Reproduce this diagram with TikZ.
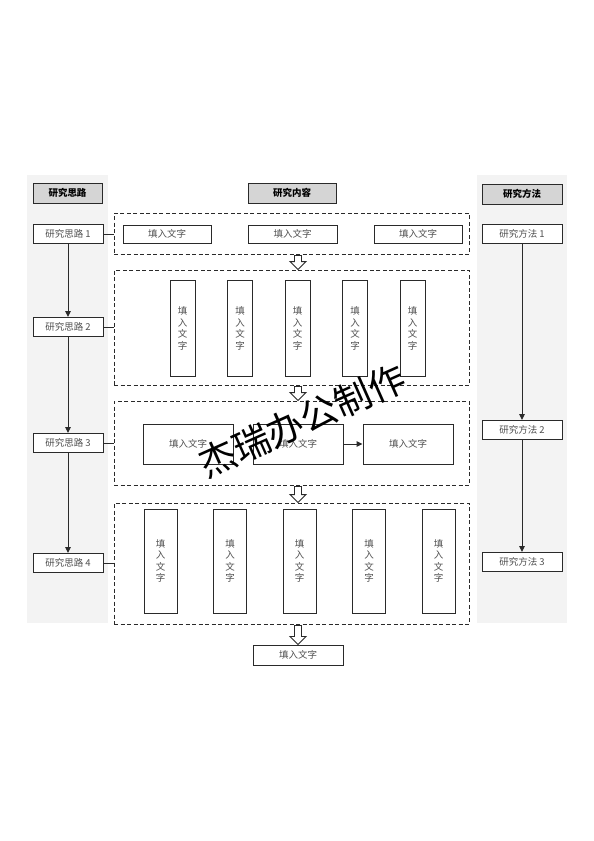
\documentclass[tikz,border=0pt]{standalone}
\usepackage{fontspec}
\setmainfont{Liberation Serif}
\newfontfamily\cjk{Noto Sans CJK SC}
\usetikzlibrary{arrows.meta,calc}
\definecolor{linegray}{HTML}{2A2A2A}
\definecolor{panelgray}{HTML}{F3F3F3}
\definecolor{hdrgray}{HTML}{D5D5D5}
\definecolor{txtgray}{HTML}{505050}
\tikzset{
  panel/.style={fill=panelgray,draw=none},
  hdr/.style={draw=linegray,fill=hdrgray,line width=1pt,minimum height=20pt,inner sep=0pt,font=\cjk\bfseries\fontsize{9.5}{11}\selectfont},
  sidebox/.style={draw=linegray,fill=white,line width=1pt,minimum width=70pt,minimum height=19pt,inner sep=0pt,text=txtgray,font=\cjk\fontsize{9.5}{11}\selectfont},
  dbox/.style={draw=linegray,dash pattern=on 4pt off 2.5pt,line width=0.9pt,inner sep=0pt},
  hbox/.style={draw=linegray,fill=white,line width=1pt,inner sep=0pt,text=txtgray,font=\cjk\fontsize{9.5}{11}\selectfont},
  vbox/.style={hbox,align=center,font=\cjk\fontsize{9.5}{11.5}\selectfont},
  conn/.style={draw=linegray,line width=1pt},
  varrow/.style={draw=linegray,line width=1pt,-{Triangle[length=6pt,width=5.5pt]}},
  harrowst/.style={draw=linegray,fill=white,line width=0.9pt,line join=miter},
}
\newcommand\harrowdraw[2]{\draw[harrowst] let \p1=(#1 -| F.center), \p2=(#2 -| F.center) in
  (\x1-3.5pt,\y1-1pt) -- (\x1+3.5pt,\y1-1pt) -- (\x1+3.5pt,\y2+8pt) -- (\x1+8pt,\y2+8pt) -- (\x1,\y2) -- (\x1-8pt,\y2+8pt) -- (\x1-3.5pt,\y2+8pt) -- cycle;}
\begin{document}
\begin{tikzpicture}[x=1pt,y=-1pt]
\useasboundingbox[fill=white] (0,0) rectangle (594,841);
% panels
\fill[panelgray] (27,175) rectangle (108,623);
\fill[panelgray] (477,175) rectangle (567,623);
% headers
\node[hdr,minimum width=69pt] (h1) at (67.5,193) {研究思路};
\node[hdr,minimum width=88pt] (h2) at (292,193) {研究内容};
\node[hdr,minimum width=80pt] (h3) at (522,194) {研究方法};
% left column
\node[sidebox] (L1) at (68,234) {研究思路 1};
\node[sidebox] (L2) at (68,327) {研究思路 2};
\node[sidebox] (L3) at (68,443) {研究思路 3};
\node[sidebox] (L4) at (68,563) {研究思路 4};
% right column
\node[sidebox,minimum width=80pt] (R1) at (522,234) {研究方法 1};
\node[sidebox,minimum width=80pt] (R2) at (522,430) {研究方法 2};
\node[sidebox,minimum width=80pt] (R3) at (522,562) {研究方法 3};
% dashed boxes
\node[dbox,minimum width=355pt,minimum height=41pt] (D1) at (291.5,233.5) {};
\node[dbox,minimum width=355pt,minimum height=115pt] (D2) at (291.5,327.5) {};
\node[dbox,minimum width=355pt,minimum height=84pt] (D3) at (291.5,443) {};
\node[dbox,minimum width=355pt,minimum height=121pt] (D4) at (291.5,563.5) {};
% row 1
\node[hbox,minimum width=88pt,minimum height=18pt] (A1) at (167,234) {填入文字};
\node[hbox,minimum width=89pt,minimum height=18pt] (A2) at (292.5,234) {填入文字};
\node[hbox,minimum width=88pt,minimum height=18pt] (A3) at (418,234) {填入文字};
% row 2
\foreach \i/\x in {1/182.5,2/240,3/297.5,4/355,5/412.5}{
  \node[vbox,minimum width=25pt,minimum height=96pt] (B\i) at (\x,328.5) {填\\入\\文\\字};
}
% row 3
\node[hbox,minimum width=90pt,minimum height=40pt] (C1) at (188,444) {填入文字};
\node[hbox,minimum width=90pt,minimum height=40pt] (C2) at (298,444) {填入文字};
\node[hbox,minimum width=90pt,minimum height=40pt] (C3) at (408,444) {填入文字};
% row 4
\foreach \i/\x in {1/160.5,2/230,3/299.5,4/369,5/438.5}{
  \node[vbox,minimum width=33pt,minimum height=104pt] (E\i) at (\x,561) {填\\入\\文\\字};
}
% final
\node[hbox,minimum width=90pt,minimum height=20pt] (F) at (298,655) {填入文字};
% connectors left to dashed boxes
\draw[conn] (L1) -- (L1 -| D1.west);
\draw[conn] (L2) -- (L2 -| D2.west);
\draw[conn] (L3) -- (L3 -| D3.west);
\draw[conn] (L4) -- (L4 -| D4.west);
% vertical arrows
\draw[varrow] (L1) -- (L2);
\draw[varrow] (L2) -- (L3);
\draw[varrow] (L3) -- (L4);
\draw[varrow] (R1) -- (R2);
\draw[varrow] (R2) -- (R3);
\draw[varrow] (C2) -- (C3);
% hollow arrows
\harrowdraw{D1.south}{D2.north}
\harrowdraw{D2.south}{D3.north}
\harrowdraw{D3.south}{D4.north}
\harrowdraw{D4.south}{F.north}
% watermark
\node[rotate=24,inner sep=0pt,font=\cjk\fontsize{37}{37}\selectfont] (wm) at (302,421) {杰瑞办公制作};
\end{tikzpicture}
\end{document}
